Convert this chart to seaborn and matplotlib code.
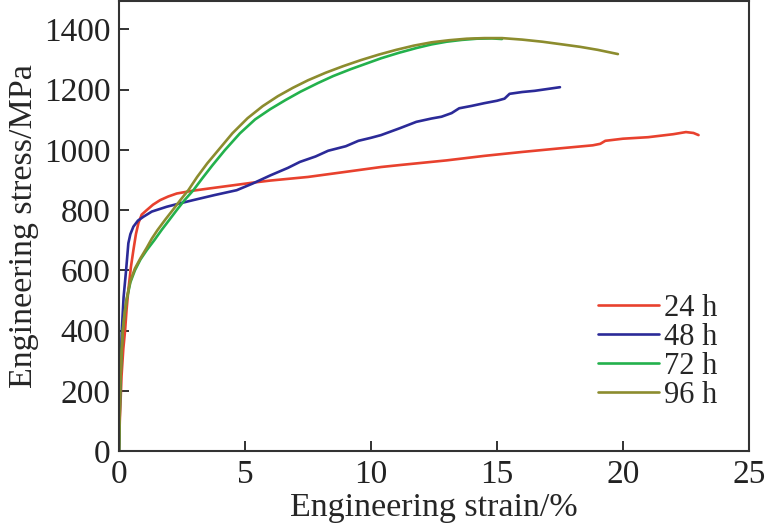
import pandas as pd
import matplotlib
matplotlib.use("Agg")
import matplotlib.pyplot as plt
import seaborn as sns

sns.set_theme(style="white")
plt.rcParams['font.family'] = ['Liberation Serif', 'DejaVu Serif']

# stress-strain curves (strain %, stress MPa)
strain_24 = [0, 0.03, 0.1, 0.17, 0.24, 0.3, 0.37, 0.47, 0.57, 0.67, 0.77, 0.9, 1.1, 1.35, 1.63, 1.95,
             2.29, 2.9, 3.6, 4.5, 5.3, 6.0, 7.5, 9.0, 10.4, 11.2, 13.0, 14.5, 16.0, 17.5, 18.8, 19.1,
             19.3, 20.0, 21.0, 22.0, 22.5, 22.8, 23.0]
stress_24 = [0, 100, 250, 340, 400, 470, 534, 610, 667, 720, 757, 785, 800, 818, 833, 845,
             855, 864, 872, 882, 891, 898, 910, 927, 943, 950, 965, 980, 993, 1005, 1015, 1020,
             1030, 1037, 1042, 1052, 1059, 1056, 1049]

strain_48 = [0, 0.04, 0.11, 0.18, 0.28, 0.37, 0.45, 0.57, 0.75, 0.97, 1.3, 1.89, 2.4, 2.94, 3.8,
             4.67, 5.3, 6.0, 6.7, 7.18, 7.8, 8.3, 9.0, 9.5, 10.0, 10.4, 11.15, 11.8, 12.4, 12.8,
             13.2, 13.5, 14.0, 14.5, 15.0, 15.3, 15.5, 16.0, 16.5, 17.0, 17.5]
stress_48 = [0, 200, 400, 510, 600, 690, 720, 745, 765, 778, 795, 811, 822, 833, 850,
             866, 888, 915, 940, 960, 978, 997, 1012, 1030, 1040, 1049, 1072, 1093, 1104, 1110,
             1122, 1138, 1146, 1155, 1163, 1170, 1186, 1192, 1196, 1202, 1208]

strain_72 = [0, 0.05, 0.1, 0.15, 0.22, 0.3, 0.45, 0.63, 0.85, 1.1, 1.4, 1.69, 2.0, 2.29, 2.6, 2.95,
             3.3, 3.7, 4.2, 4.8, 5.4, 6.0, 6.6, 7.2, 7.9, 8.5, 9.2, 9.8, 10.4, 11.1, 11.8, 12.4,
             13.0, 13.6, 14.2, 14.8, 15.2]
stress_72 = [0, 220, 330, 400, 455, 501, 560, 600, 636, 667, 700, 734, 768, 800, 833, 866,
             905, 948, 999, 1055, 1101, 1135, 1165, 1193, 1222, 1245, 1268, 1286, 1304, 1322, 1338, 1350,
             1359, 1365, 1369, 1370, 1368]

strain_96 = [0, 0.05, 0.1, 0.15, 0.22, 0.3, 0.45, 0.63, 0.85, 1.1, 1.3, 1.53, 1.85, 2.15, 2.45, 2.75,
             3.1, 3.5, 3.94, 4.5, 5.1, 5.7, 6.3, 6.9, 7.5, 8.2, 8.9, 9.6, 10.3, 11.0, 11.7, 12.4,
             13.1, 13.8, 14.5, 15.2, 16.0, 16.8, 17.6, 18.3, 19.0, 19.8]
stress_96 = [0, 220, 330, 400, 458, 505, 565, 606, 640, 675, 705, 734, 770, 802, 835, 866,
             910, 955, 999, 1055, 1105, 1145, 1178, 1206, 1231, 1256, 1278, 1298, 1316, 1332, 1346, 1357,
             1364, 1369, 1371, 1371, 1366, 1359, 1350, 1342, 1332, 1318]

labels = ["24 h", "48 h", "72 h", "96 h"]
colors = ["#e8412e", "#2b2a98", "#23b14c", "#8c8c2e"]

frames = []
for lab, xs, ys in zip(labels, [strain_24, strain_48, strain_72, strain_96],
                       [stress_24, stress_48, stress_72, stress_96]):
    frames.append(pd.DataFrame({"strain": xs, "stress": ys, "time": lab}))
dt = pd.concat(frames, ignore_index=True)

fig = plt.figure(figsize=(7.65, 5.3), dpi=100)
ax = fig.add_axes([0.1556, 0.149, 0.8234, 0.849])
sns.lineplot(data=dt, x="strain", y="stress", hue="time", palette=dict(zip(labels, colors)),
             sort=False, estimator=None, units="time", linewidth=1.9, ax=ax)

ax.set_xlim(0, 25)
ax.set_ylim(0, 1494)
ax.set_xticks([0, 5, 10, 15, 20, 25])
ax.set_yticks(range(0, 1401, 200))
ax.set_xlabel("Engineering strain/%", fontsize=24.5, labelpad=2)
ax.set_ylabel("Engineering stress/MPa", fontsize=24.5, labelpad=4)
ax.tick_params(direction="in", length=7, width=1.3, labelsize=24, colors="#222222",
               left=True, bottom=True, pad=6)
for s in ax.spines.values():
    s.set_color("#333333")
    s.set_linewidth(1.5)

ax.legend(loc="upper left", bbox_to_anchor=(0.782, 0.445), bbox_transform=fig.transFigure,
          frameon=False, fontsize=22, handlelength=2.0, handletextpad=0.15, labelspacing=0.0,
          borderpad=0, borderaxespad=0)

fig.savefig("out.png", dpi=100)
